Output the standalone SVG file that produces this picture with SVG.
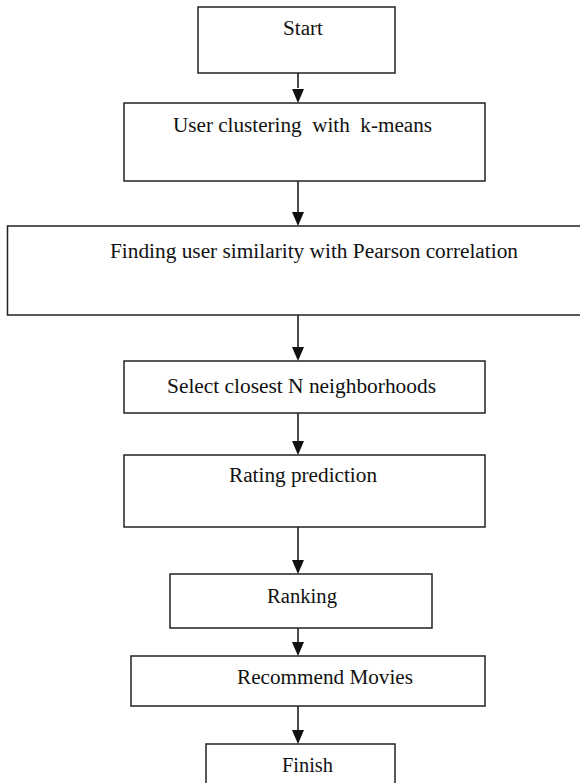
<svg xmlns="http://www.w3.org/2000/svg" width="580" height="783" viewBox="0 0 580 783">
<style>
.box{fill:#fff;stroke:#222;stroke-width:1.5}
.lbl{font-family:"Liberation Serif","Times New Roman",serif;font-size:20px;fill:#111}
.ln{stroke:#111;stroke-width:1.5;fill:none}
.ah{fill:#111}
</style>
<rect width="580" height="783" fill="#fff"/>
<g id="connectors">
<line class="ln" x1="298" y1="73" x2="298" y2="88"/><path class="ah" d="M292,89 L304,89 L298,103 Z"/>
<line class="ln" x1="298" y1="181" x2="298" y2="212"/><path class="ah" d="M292,212 L304,212 L298,226 Z"/>
<line class="ln" x1="298" y1="315" x2="298" y2="347"/><path class="ah" d="M292,347 L304,347 L298,361 Z"/>
<line class="ln" x1="298" y1="413" x2="298" y2="441"/><path class="ah" d="M292,441 L304,441 L298,455 Z"/>
<line class="ln" x1="298" y1="527" x2="298" y2="560"/><path class="ah" d="M292,560 L304,560 L298,574 Z"/>
<line class="ln" x1="298" y1="628" x2="298" y2="642"/><path class="ah" d="M292,642 L304,642 L298,656 Z"/>
<line class="ln" x1="298" y1="706" x2="298" y2="730"/><path class="ah" d="M292,730 L304,730 L298,744 Z"/>
</g>
<g id="start"><rect class="box" x="198" y="7" width="197" height="66"/><text class="lbl" x="283" y="35" textLength="40" lengthAdjust="spacingAndGlyphs">Start</text></g>
<g id="clustering"><rect class="box" x="124" y="103" width="361" height="78"/><text class="lbl" x="173" y="132" textLength="259" lengthAdjust="spacingAndGlyphs" xml:space="preserve">User clustering  with  k-means</text></g>
<g id="similarity"><rect class="box" x="7.5" y="226" width="580" height="89"/><text class="lbl" x="110" y="258" textLength="408" lengthAdjust="spacingAndGlyphs">Finding user similarity with Pearson correlation</text></g>
<g id="neighbors"><rect class="box" x="124" y="361" width="361" height="52"/><text class="lbl" x="167" y="393" textLength="269" lengthAdjust="spacingAndGlyphs">Select closest N neighborhoods</text></g>
<g id="prediction"><rect class="box" x="124" y="455" width="361" height="72"/><text class="lbl" x="229" y="482" textLength="148" lengthAdjust="spacingAndGlyphs">Rating prediction</text></g>
<g id="ranking"><rect class="box" x="170" y="574" width="262" height="54"/><text class="lbl" x="267" y="603" textLength="70" lengthAdjust="spacingAndGlyphs">Ranking</text></g>
<g id="recommend"><rect class="box" x="131" y="656" width="354" height="50"/><text class="lbl" x="237" y="684" textLength="176" lengthAdjust="spacingAndGlyphs">Recommend Movies</text></g>
<g id="finish"><rect class="box" x="206" y="744" width="189" height="60"/><text class="lbl" x="282" y="772" textLength="51" lengthAdjust="spacingAndGlyphs">Finish</text></g>
</svg>
